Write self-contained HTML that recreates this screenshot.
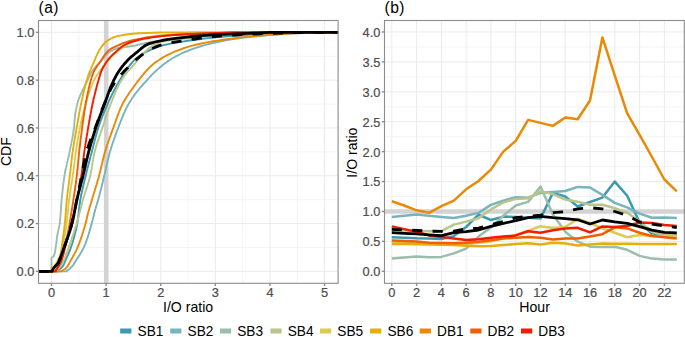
<!DOCTYPE html>
<html><head><meta charset="utf-8"><style>
html,body{margin:0;padding:0;background:#fff;width:685px;height:337px;overflow:hidden}
svg{display:block}
text{font-family:"Liberation Sans",sans-serif}
.tk text{stroke:#4D4D4D;stroke-width:0.22px}
.bt text{stroke:none}
</style></head><body>
<svg width="685" height="337" viewBox="0 0 685 337">
<rect width="685" height="337" fill="#fff"/>
<g><line x1="78.85" y1="20.5" x2="78.85" y2="283.3" stroke="#F1F1F1" stroke-width="0.8"/>
<line x1="133.45" y1="20.5" x2="133.45" y2="283.3" stroke="#F1F1F1" stroke-width="0.8"/>
<line x1="188.05" y1="20.5" x2="188.05" y2="283.3" stroke="#F1F1F1" stroke-width="0.8"/>
<line x1="242.65" y1="20.5" x2="242.65" y2="283.3" stroke="#F1F1F1" stroke-width="0.8"/>
<line x1="297.25" y1="20.5" x2="297.25" y2="283.3" stroke="#F1F1F1" stroke-width="0.8"/>
<line x1="38.5" y1="247.45" x2="338.1" y2="247.45" stroke="#F1F1F1" stroke-width="0.8"/>
<line x1="38.5" y1="199.65" x2="338.1" y2="199.65" stroke="#F1F1F1" stroke-width="0.8"/>
<line x1="38.5" y1="151.85" x2="338.1" y2="151.85" stroke="#F1F1F1" stroke-width="0.8"/>
<line x1="38.5" y1="104.05" x2="338.1" y2="104.05" stroke="#F1F1F1" stroke-width="0.8"/>
<line x1="38.5" y1="56.25" x2="338.1" y2="56.25" stroke="#F1F1F1" stroke-width="0.8"/>
<line x1="51.55" y1="20.5" x2="51.55" y2="283.3" stroke="#EBEBEB" stroke-width="1.0"/>
<line x1="106.15" y1="20.5" x2="106.15" y2="283.3" stroke="#EBEBEB" stroke-width="1.0"/>
<line x1="160.75" y1="20.5" x2="160.75" y2="283.3" stroke="#EBEBEB" stroke-width="1.0"/>
<line x1="215.35" y1="20.5" x2="215.35" y2="283.3" stroke="#EBEBEB" stroke-width="1.0"/>
<line x1="269.95" y1="20.5" x2="269.95" y2="283.3" stroke="#EBEBEB" stroke-width="1.0"/>
<line x1="324.55" y1="20.5" x2="324.55" y2="283.3" stroke="#EBEBEB" stroke-width="1.0"/>
<line x1="38.5" y1="271.35" x2="338.1" y2="271.35" stroke="#EBEBEB" stroke-width="1.0"/>
<line x1="38.5" y1="223.55" x2="338.1" y2="223.55" stroke="#EBEBEB" stroke-width="1.0"/>
<line x1="38.5" y1="175.75" x2="338.1" y2="175.75" stroke="#EBEBEB" stroke-width="1.0"/>
<line x1="38.5" y1="127.95" x2="338.1" y2="127.95" stroke="#EBEBEB" stroke-width="1.0"/>
<line x1="38.5" y1="80.15" x2="338.1" y2="80.15" stroke="#EBEBEB" stroke-width="1.0"/>
<line x1="38.5" y1="32.35" x2="338.1" y2="32.35" stroke="#EBEBEB" stroke-width="1.0"/>
<line x1="384.5" y1="256.34" x2="684.3" y2="256.34" stroke="#F1F1F1" stroke-width="0.8"/>
<line x1="384.5" y1="226.43" x2="684.3" y2="226.43" stroke="#F1F1F1" stroke-width="0.8"/>
<line x1="384.5" y1="196.51" x2="684.3" y2="196.51" stroke="#F1F1F1" stroke-width="0.8"/>
<line x1="384.5" y1="166.6" x2="684.3" y2="166.6" stroke="#F1F1F1" stroke-width="0.8"/>
<line x1="384.5" y1="136.68" x2="684.3" y2="136.68" stroke="#F1F1F1" stroke-width="0.8"/>
<line x1="384.5" y1="106.77" x2="684.3" y2="106.77" stroke="#F1F1F1" stroke-width="0.8"/>
<line x1="384.5" y1="76.85" x2="684.3" y2="76.85" stroke="#F1F1F1" stroke-width="0.8"/>
<line x1="384.5" y1="46.94" x2="684.3" y2="46.94" stroke="#F1F1F1" stroke-width="0.8"/>
<line x1="391.8" y1="20.5" x2="391.8" y2="283.3" stroke="#EBEBEB" stroke-width="1.0"/>
<line x1="416.58" y1="20.5" x2="416.58" y2="283.3" stroke="#EBEBEB" stroke-width="1.0"/>
<line x1="441.36" y1="20.5" x2="441.36" y2="283.3" stroke="#EBEBEB" stroke-width="1.0"/>
<line x1="466.14" y1="20.5" x2="466.14" y2="283.3" stroke="#EBEBEB" stroke-width="1.0"/>
<line x1="490.92" y1="20.5" x2="490.92" y2="283.3" stroke="#EBEBEB" stroke-width="1.0"/>
<line x1="515.7" y1="20.5" x2="515.7" y2="283.3" stroke="#EBEBEB" stroke-width="1.0"/>
<line x1="540.48" y1="20.5" x2="540.48" y2="283.3" stroke="#EBEBEB" stroke-width="1.0"/>
<line x1="565.26" y1="20.5" x2="565.26" y2="283.3" stroke="#EBEBEB" stroke-width="1.0"/>
<line x1="590.04" y1="20.5" x2="590.04" y2="283.3" stroke="#EBEBEB" stroke-width="1.0"/>
<line x1="614.82" y1="20.5" x2="614.82" y2="283.3" stroke="#EBEBEB" stroke-width="1.0"/>
<line x1="639.6" y1="20.5" x2="639.6" y2="283.3" stroke="#EBEBEB" stroke-width="1.0"/>
<line x1="664.38" y1="20.5" x2="664.38" y2="283.3" stroke="#EBEBEB" stroke-width="1.0"/>
<line x1="384.5" y1="271.3" x2="684.3" y2="271.3" stroke="#EBEBEB" stroke-width="1.0"/>
<line x1="384.5" y1="241.39" x2="684.3" y2="241.39" stroke="#EBEBEB" stroke-width="1.0"/>
<line x1="384.5" y1="211.47" x2="684.3" y2="211.47" stroke="#EBEBEB" stroke-width="1.0"/>
<line x1="384.5" y1="181.56" x2="684.3" y2="181.56" stroke="#EBEBEB" stroke-width="1.0"/>
<line x1="384.5" y1="151.64" x2="684.3" y2="151.64" stroke="#EBEBEB" stroke-width="1.0"/>
<line x1="384.5" y1="121.73" x2="684.3" y2="121.73" stroke="#EBEBEB" stroke-width="1.0"/>
<line x1="384.5" y1="91.81" x2="684.3" y2="91.81" stroke="#EBEBEB" stroke-width="1.0"/>
<line x1="384.5" y1="61.9" x2="684.3" y2="61.9" stroke="#EBEBEB" stroke-width="1.0"/>
<line x1="384.5" y1="31.98" x2="684.3" y2="31.98" stroke="#EBEBEB" stroke-width="1.0"/></g>
<g><line x1="106.2" y1="20.5" x2="106.2" y2="283.3" stroke="#D3D3D3" stroke-width="4.6"/>
<line x1="384.5" y1="211.5" x2="684.3" y2="211.5" stroke="#D3D3D3" stroke-width="4.6"/>
<g fill="none" stroke-width="1.9" stroke-linejoin="round">
<polyline points="38.5,271.4 58.1,271.4 58.1,270.2 58.1,270.2 59.3,269.4 60.4,268.6 61.3,267.8 62.1,267.0 62.7,266.2 63.2,265.4 63.7,264.6 64.1,263.8 64.4,263.0 64.8,262.2 65.1,261.4 65.4,260.6 65.7,259.8 66.1,259.0 66.4,258.2 66.8,257.5 67.2,256.7 67.5,255.9 67.9,255.1 68.2,254.3 68.6,253.5 68.9,252.7 69.2,251.9 69.6,251.1 69.9,250.3 70.2,249.5 70.5,248.7 70.8,247.9 71.0,247.1 71.3,246.3 71.6,245.5 71.8,244.8 72.1,244.0 72.3,243.2 72.6,242.4 72.8,241.6 73.0,240.8 73.3,240.0 73.5,239.2 73.7,238.4 74.0,237.6 74.2,236.8 74.4,236.0 74.6,235.2 74.8,234.4 75.0,233.6 75.2,232.8 75.4,232.1 75.6,231.3 75.8,230.5 76.0,229.7 76.2,228.9 76.3,228.1 76.5,227.3 76.7,226.5 76.8,225.7 77.0,224.9 77.1,224.1 77.3,223.3 77.4,222.5 77.5,221.7 77.6,220.9 77.8,220.1 77.9,219.4 78.0,218.6 78.1,217.8 78.2,217.0 78.3,216.2 78.4,215.4 78.5,214.6 78.6,213.8 78.7,213.0 78.8,212.2 78.8,211.4 78.9,210.6 79.0,209.8 79.1,209.0 79.2,208.2 79.3,207.4 79.4,206.7 79.5,205.9 79.6,205.1 79.7,204.3 79.8,203.5 79.9,202.7 80.0,201.9 80.1,201.1 80.3,200.3 80.4,199.5 80.5,198.7 80.7,197.9 80.8,197.1 81.0,196.3 81.1,195.5 81.3,194.8 81.4,194.0 81.6,193.2 81.8,192.4 81.9,191.6 82.1,190.8 82.3,190.0 82.5,189.2 82.7,188.4 82.8,187.6 83.0,186.8 83.2,186.0 83.4,185.2 83.6,184.4 83.8,183.6 84.0,182.8 84.2,182.1 84.3,181.3 84.5,180.5 84.7,179.7 84.9,178.9 85.1,178.1 85.3,177.3 85.5,176.5 85.7,175.7 85.9,174.9 86.1,174.1 86.3,173.3 86.5,172.5 86.6,171.7 86.8,170.9 87.0,170.1 87.2,169.4 87.4,168.6 87.6,167.8 87.8,167.0 88.0,166.2 88.2,165.4 88.5,164.6 88.7,163.8 88.9,163.0 89.1,162.2 89.3,161.4 89.5,160.6 89.7,159.8 89.9,159.0 90.1,158.2 90.3,157.4 90.5,156.7 90.7,155.9 90.9,155.1 91.2,154.3 91.4,153.5 91.6,152.7 91.8,151.9 92.0,151.1 92.2,150.3 92.4,149.5 92.6,148.7 92.8,147.9 93.0,147.1 93.2,146.3 93.4,145.5 93.6,144.7 93.8,144.0 94.0,143.2 94.2,142.4 94.4,141.6 94.6,140.8 94.8,140.0 95.0,139.2 95.2,138.4 95.4,137.6 95.7,136.8 95.9,136.0 96.1,135.2 96.3,134.4 96.5,133.6 96.8,132.8 97.0,132.0 97.2,131.3 97.5,130.5 97.7,129.7 97.9,128.9 98.2,128.1 98.4,127.3 98.7,126.5 99.0,125.7 99.2,124.9 99.5,124.1 99.8,123.3 100.1,122.5 100.4,121.7 100.7,120.9 101.0,120.1 101.3,119.3 101.6,118.6 101.9,117.8 102.2,117.0 102.5,116.2 102.8,115.4 103.1,114.6 103.5,113.8 103.8,113.0 104.1,112.2 104.4,111.4 104.8,110.6 105.1,109.8 105.5,109.0 105.8,108.2 106.1,107.4 106.5,106.6 106.8,105.9 107.2,105.1 107.5,104.3 107.9,103.5 108.2,102.7 108.6,101.9 109.0,101.1 109.3,100.3 109.7,99.5 110.1,98.7 110.4,97.9 110.8,97.1 111.2,96.3 111.6,95.5 111.9,94.7 112.3,93.9 112.7,93.2 113.1,92.4 113.5,91.6 113.9,90.8 114.3,90.0 114.7,89.2 115.2,88.4 115.6,87.6 116.0,86.8 116.4,86.0 116.9,85.2 117.3,84.4 117.8,83.6 118.2,82.8 118.7,82.0 119.1,81.2 119.6,80.5 120.1,79.7 120.6,78.9 121.1,78.1 121.5,77.3 122.0,76.5 122.5,75.7 123.0,74.9 123.5,74.1 124.0,73.3 124.6,72.5 125.1,71.7 125.6,70.9 126.2,70.1 126.7,69.3 127.3,68.5 127.9,67.8 128.5,67.0 129.1,66.2 129.7,65.4 130.4,64.6 131.0,63.8 131.7,63.0 132.4,62.2 133.1,61.4 133.8,60.6 134.6,59.8 135.5,59.0 136.3,58.2 137.3,57.4 138.4,56.6 139.5,55.8 140.7,55.1 141.9,54.3 143.2,53.5 144.6,52.7 146.1,51.9 147.7,51.1 149.3,50.3 151.1,49.5 153.1,48.7 155.1,47.9 157.3,47.1 159.7,46.3 162.3,45.5 165.4,44.7 169.1,43.9 173.3,43.1 177.9,42.4 182.7,41.6 187.7,40.8 193.1,40.0 199.1,39.2 205.8,38.4 213.2,37.6 221.1,36.8 230.0,36.0 240.6,35.2 254.3,34.4 273.7,33.6 297.2,32.8 309.5,32.4 338.1,32.4" stroke="#3A9AB2"/>
<polyline points="38.5,271.4 66.8,271.4 66.8,270.6 66.8,270.6 68.3,269.8 69.5,269.0 70.3,268.2 71.1,267.4 71.8,266.7 72.5,265.9 73.1,265.1 73.6,264.3 74.1,263.5 74.6,262.7 75.1,261.9 75.6,261.1 76.1,260.3 76.6,259.5 77.1,258.7 77.7,257.9 78.2,257.1 78.7,256.3 79.2,255.5 79.7,254.7 80.2,253.9 80.7,253.1 81.2,252.3 81.7,251.5 82.1,250.7 82.6,249.9 83.0,249.1 83.4,248.3 83.7,247.5 84.1,246.7 84.4,245.9 84.7,245.1 85.1,244.3 85.4,243.6 85.7,242.8 86.0,242.0 86.3,241.2 86.6,240.4 86.9,239.6 87.1,238.8 87.4,238.0 87.7,237.2 87.9,236.4 88.2,235.6 88.5,234.8 88.7,234.0 89.0,233.2 89.2,232.4 89.4,231.6 89.7,230.8 89.9,230.0 90.1,229.2 90.4,228.4 90.6,227.6 90.8,226.8 91.0,226.0 91.3,225.2 91.5,224.4 91.7,223.6 91.9,222.8 92.1,222.0 92.3,221.2 92.5,220.5 92.7,219.7 92.9,218.9 93.1,218.1 93.3,217.3 93.5,216.5 93.7,215.7 93.9,214.9 94.0,214.1 94.2,213.3 94.5,212.5 94.7,211.7 94.9,210.9 95.1,210.1 95.3,209.3 95.6,208.5 95.8,207.7 96.1,206.9 96.3,206.1 96.5,205.3 96.8,204.5 97.0,203.7 97.3,202.9 97.5,202.1 97.8,201.3 98.0,200.5 98.2,199.7 98.4,198.9 98.6,198.1 98.9,197.4 99.1,196.6 99.3,195.8 99.5,195.0 99.7,194.2 99.9,193.4 100.1,192.6 100.3,191.8 100.5,191.0 100.7,190.2 100.9,189.4 101.1,188.6 101.3,187.8 101.5,187.0 101.7,186.2 101.9,185.4 102.1,184.6 102.3,183.8 102.5,183.0 102.7,182.2 102.9,181.4 103.1,180.6 103.2,179.8 103.4,179.0 103.6,178.2 103.8,177.4 104.0,176.6 104.2,175.8 104.4,175.0 104.6,174.3 104.8,173.5 105.0,172.7 105.2,171.9 105.3,171.1 105.5,170.3 105.7,169.5 105.9,168.7 106.1,167.9 106.3,167.1 106.4,166.3 106.6,165.5 106.8,164.7 107.0,163.9 107.2,163.1 107.3,162.3 107.5,161.5 107.7,160.7 107.9,159.9 108.1,159.1 108.3,158.3 108.5,157.5 108.7,156.7 108.9,155.9 109.1,155.1 109.3,154.3 109.5,153.5 109.7,152.7 109.9,151.9 110.2,151.2 110.4,150.4 110.6,149.6 110.9,148.8 111.1,148.0 111.4,147.2 111.6,146.4 111.9,145.6 112.1,144.8 112.4,144.0 112.6,143.2 112.9,142.4 113.2,141.6 113.5,140.8 113.7,140.0 114.0,139.2 114.3,138.4 114.6,137.6 114.9,136.8 115.1,136.0 115.4,135.2 115.7,134.4 116.0,133.6 116.3,132.8 116.6,132.0 116.9,131.2 117.2,130.4 117.5,129.6 117.8,128.9 118.1,128.1 118.4,127.3 118.7,126.5 119.0,125.7 119.3,124.9 119.6,124.1 119.9,123.3 120.3,122.5 120.6,121.7 120.9,120.9 121.2,120.1 121.5,119.3 121.8,118.5 122.1,117.7 122.5,116.9 122.8,116.1 123.1,115.3 123.5,114.5 123.8,113.7 124.2,112.9 124.5,112.1 124.9,111.3 125.3,110.5 125.6,109.7 126.0,108.9 126.4,108.1 126.8,107.3 127.2,106.5 127.6,105.8 128.0,105.0 128.5,104.2 128.9,103.4 129.4,102.6 129.9,101.8 130.3,101.0 130.9,100.2 131.4,99.4 131.9,98.6 132.4,97.8 133.0,97.0 133.6,96.2 134.1,95.4 134.7,94.6 135.3,93.8 135.9,93.0 136.6,92.2 137.2,91.4 137.8,90.6 138.5,89.8 139.1,89.0 139.8,88.2 140.5,87.4 141.2,86.6 141.9,85.8 142.6,85.0 143.3,84.2 144.0,83.4 144.7,82.7 145.4,81.9 146.1,81.1 146.8,80.3 147.5,79.5 148.2,78.7 149.0,77.9 149.7,77.1 150.5,76.3 151.2,75.5 152.0,74.7 152.8,73.9 153.6,73.1 154.4,72.3 155.3,71.5 156.1,70.7 157.0,69.9 157.9,69.1 158.8,68.3 159.7,67.5 160.7,66.7 161.7,65.9 162.7,65.1 163.7,64.3 164.7,63.5 165.8,62.7 166.9,61.9 168.1,61.1 169.3,60.3 170.5,59.6 171.7,58.8 173.0,58.0 174.4,57.2 175.8,56.4 177.3,55.6 178.8,54.8 180.5,54.0 182.2,53.2 184.0,52.4 185.9,51.6 187.9,50.8 189.9,50.0 192.1,49.2 194.3,48.4 196.7,47.6 199.1,46.8 201.7,46.0 204.4,45.2 207.4,44.4 210.5,43.6 213.9,42.8 217.5,42.0 221.5,41.2 225.7,40.4 230.3,39.6 235.3,38.8 240.7,38.0 246.6,37.2 253.5,36.5 261.6,35.7 271.3,34.9 282.8,34.1 296.4,33.3 319.1,32.5 322.4,32.4 338.1,32.4" stroke="#78B4BE"/>
<polyline points="38.5,271.4 51.5,271.4 51.5,257.7 51.5,257.7 52.7,257.0 53.6,256.2 54.0,255.5 54.3,254.7 54.5,254.0 54.7,253.2 54.9,252.5 55.0,251.7 55.1,251.0 55.3,250.2 55.4,249.5 55.5,248.7 55.6,248.0 55.7,247.2 55.8,246.5 55.9,245.7 56.0,245.0 56.2,244.2 56.3,243.5 56.4,242.7 56.5,242.0 56.6,241.2 56.6,240.5 56.7,239.8 56.8,239.0 56.9,238.3 57.0,237.5 57.1,236.8 57.2,236.0 57.3,235.3 57.4,234.5 57.6,233.8 57.7,233.0 57.9,232.3 58.0,231.5 58.2,230.8 58.4,230.0 58.6,229.3 58.7,228.5 58.9,227.8 59.1,227.0 59.3,226.3 59.4,225.5 59.6,224.8 59.7,224.0 59.8,223.3 59.9,222.5 59.9,221.8 60.0,221.0 60.1,220.3 60.2,219.5 60.2,218.8 60.3,218.0 60.4,217.3 60.4,216.5 60.5,215.8 60.5,215.0 60.6,214.3 60.7,213.5 60.7,212.8 60.8,212.0 60.8,211.3 60.8,210.5 60.9,209.8 60.9,209.0 61.0,208.3 61.0,207.5 61.1,206.8 61.1,206.0 61.2,205.3 61.2,204.5 61.3,203.8 61.4,203.1 61.4,202.3 61.5,201.6 61.5,200.8 61.6,200.1 61.7,199.3 61.8,198.6 61.8,197.8 61.9,197.1 62.0,196.3 62.1,195.6 62.1,194.8 62.2,194.1 62.3,193.3 62.4,192.6 62.4,191.8 62.5,191.1 62.6,190.3 62.7,189.6 62.8,188.8 62.9,188.1 62.9,187.3 63.0,186.6 63.1,185.8 63.2,185.1 63.3,184.3 63.4,183.6 63.5,182.8 63.6,182.1 63.7,181.3 63.8,180.6 63.9,179.8 64.0,179.1 64.1,178.3 64.2,177.6 64.3,176.8 64.4,176.1 64.6,175.3 64.7,174.6 64.8,173.8 64.9,173.1 65.1,172.3 65.2,171.6 65.4,170.8 65.5,170.1 65.7,169.3 65.8,168.6 66.0,167.9 66.1,167.1 66.3,166.4 66.5,165.6 66.7,164.9 66.8,164.1 67.0,163.4 67.2,162.6 67.3,161.9 67.5,161.1 67.7,160.4 67.9,159.6 68.0,158.9 68.2,158.1 68.4,157.4 68.6,156.6 68.7,155.9 68.9,155.1 69.1,154.4 69.2,153.6 69.4,152.9 69.5,152.1 69.7,151.4 69.8,150.6 70.0,149.9 70.1,149.1 70.3,148.4 70.4,147.6 70.6,146.9 70.7,146.1 70.9,145.4 71.0,144.6 71.2,143.9 71.3,143.1 71.5,142.4 71.6,141.6 71.8,140.9 71.9,140.1 72.1,139.4 72.2,138.6 72.4,137.9 72.5,137.1 72.6,136.4 72.8,135.6 72.9,134.9 73.0,134.1 73.2,133.4 73.3,132.6 73.4,131.9 73.5,131.2 73.6,130.4 73.7,129.7 73.8,128.9 73.9,128.2 74.0,127.4 74.1,126.7 74.2,125.9 74.2,125.2 74.3,124.4 74.3,123.7 74.4,122.9 74.5,122.2 74.5,121.4 74.6,120.7 74.6,119.9 74.7,119.2 74.8,118.4 74.8,117.7 74.9,116.9 75.0,116.2 75.1,115.4 75.2,114.7 75.3,113.9 75.4,113.2 75.5,112.4 75.6,111.7 75.8,110.9 75.9,110.2 76.0,109.4 76.2,108.7 76.3,107.9 76.5,107.2 76.7,106.4 76.8,105.7 77.0,104.9 77.2,104.2 77.4,103.4 77.6,102.7 77.8,101.9 78.0,101.2 78.3,100.4 78.5,99.7 78.8,98.9 79.1,98.2 79.4,97.4 79.7,96.7 80.0,95.9 80.3,95.2 80.6,94.5 81.0,93.7 81.3,93.0 81.7,92.2 82.0,91.5 82.4,90.7 82.7,90.0 83.1,89.2 83.5,88.5 83.9,87.7 84.2,87.0 84.6,86.2 85.0,85.5 85.4,84.7 85.7,84.0 86.1,83.2 86.5,82.5 86.8,81.7 87.2,81.0 87.6,80.2 87.9,79.5 88.3,78.7 88.6,78.0 88.9,77.2 89.3,76.5 89.7,75.7 90.0,75.0 90.4,74.2 90.8,73.5 91.2,72.7 91.7,72.0 92.2,71.2 92.7,70.5 93.2,69.7 93.8,69.0 94.4,68.2 95.0,67.5 95.7,66.7 96.4,66.0 97.1,65.2 97.8,64.5 98.5,63.7 99.2,63.0 99.9,62.2 100.6,61.5 101.3,60.7 102.0,60.0 102.6,59.2 103.2,58.5 103.8,57.8 104.5,57.0 105.1,56.3 105.7,55.5 106.5,54.8 107.2,54.0 108.1,53.3 109.0,52.5 110.0,51.8 111.2,51.0 112.5,50.3 113.9,49.5 115.8,48.8 118.3,48.0 121.7,47.3 129.0,46.5 133.9,45.8 137.0,45.0 140.1,44.3 143.9,43.5 147.8,42.8 152.0,42.0 156.8,41.3 162.3,40.5 169.3,39.8 177.5,39.0 185.9,38.3 194.0,37.5 202.1,36.8 210.9,36.0 221.4,35.3 234.0,34.5 248.1,33.8 272.7,32.4 338.1,32.4" stroke="#9BBEAC"/>
<polyline points="38.5,271.4 57.0,271.4 57.0,270.2 57.0,270.2 57.7,269.4 58.4,268.6 59.1,267.8 59.7,267.0 60.3,266.2 60.8,265.4 61.3,264.6 61.8,263.8 62.3,263.0 62.7,262.2 63.1,261.5 63.5,260.7 63.9,259.9 64.3,259.1 64.6,258.3 64.9,257.5 65.3,256.7 65.6,255.9 65.9,255.1 66.2,254.3 66.5,253.5 66.8,252.7 67.1,252.0 67.3,251.2 67.6,250.4 67.9,249.6 68.2,248.8 68.4,248.0 68.7,247.2 69.0,246.4 69.3,245.6 69.6,244.8 69.9,244.0 70.1,243.2 70.4,242.5 70.7,241.7 71.0,240.9 71.3,240.1 71.5,239.3 71.8,238.5 72.1,237.7 72.4,236.9 72.6,236.1 72.9,235.3 73.2,234.5 73.4,233.8 73.7,233.0 74.0,232.2 74.2,231.4 74.5,230.6 74.7,229.8 75.0,229.0 75.2,228.2 75.5,227.4 75.7,226.6 76.0,225.8 76.2,225.0 76.5,224.3 76.7,223.5 76.9,222.7 77.2,221.9 77.4,221.1 77.6,220.3 77.8,219.5 78.0,218.7 78.2,217.9 78.5,217.1 78.7,216.3 78.9,215.6 79.1,214.8 79.3,214.0 79.5,213.2 79.7,212.4 79.9,211.6 80.1,210.8 80.3,210.0 80.5,209.2 80.7,208.4 80.9,207.6 81.1,206.8 81.3,206.1 81.5,205.3 81.7,204.5 81.9,203.7 82.1,202.9 82.3,202.1 82.5,201.3 82.8,200.5 83.0,199.7 83.2,198.9 83.4,198.1 83.7,197.4 83.9,196.6 84.2,195.8 84.4,195.0 84.7,194.2 84.9,193.4 85.2,192.6 85.4,191.8 85.7,191.0 85.9,190.2 86.2,189.4 86.4,188.6 86.7,187.9 87.0,187.1 87.2,186.3 87.5,185.5 87.7,184.7 88.0,183.9 88.2,183.1 88.4,182.3 88.7,181.5 88.9,180.7 89.1,179.9 89.3,179.2 89.6,178.4 89.8,177.6 90.0,176.8 90.2,176.0 90.3,175.2 90.5,174.4 90.7,173.6 90.8,172.8 91.0,172.0 91.1,171.2 91.3,170.4 91.4,169.7 91.6,168.9 91.7,168.1 91.9,167.3 92.0,166.5 92.1,165.7 92.2,164.9 92.4,164.1 92.5,163.3 92.6,162.5 92.8,161.7 92.9,161.0 93.0,160.2 93.2,159.4 93.3,158.6 93.5,157.8 93.6,157.0 93.8,156.2 93.9,155.4 94.1,154.6 94.2,153.8 94.4,153.0 94.6,152.2 94.8,151.5 95.0,150.7 95.2,149.9 95.4,149.1 95.6,148.3 95.8,147.5 96.1,146.7 96.3,145.9 96.5,145.1 96.8,144.3 97.0,143.5 97.3,142.7 97.5,142.0 97.8,141.2 98.1,140.4 98.3,139.6 98.6,138.8 98.9,138.0 99.1,137.2 99.4,136.4 99.7,135.6 100.0,134.8 100.2,134.0 100.5,133.3 100.8,132.5 101.1,131.7 101.3,130.9 101.6,130.1 101.9,129.3 102.1,128.5 102.4,127.7 102.7,126.9 102.9,126.1 103.2,125.3 103.5,124.5 103.7,123.8 104.0,123.0 104.2,122.2 104.5,121.4 104.8,120.6 105.0,119.8 105.3,119.0 105.6,118.2 105.8,117.4 106.1,116.6 106.4,115.8 106.7,115.1 106.9,114.3 107.2,113.5 107.5,112.7 107.8,111.9 108.0,111.1 108.3,110.3 108.6,109.5 108.9,108.7 109.2,107.9 109.5,107.1 109.8,106.3 110.1,105.6 110.4,104.8 110.7,104.0 111.0,103.2 111.3,102.4 111.6,101.6 112.0,100.8 112.3,100.0 112.6,99.2 112.9,98.4 113.2,97.6 113.5,96.9 113.8,96.1 114.2,95.3 114.5,94.5 114.8,93.7 115.1,92.9 115.5,92.1 115.8,91.3 116.2,90.5 116.5,89.7 116.9,88.9 117.3,88.1 117.6,87.4 118.0,86.6 118.4,85.8 118.8,85.0 119.2,84.2 119.6,83.4 120.0,82.6 120.5,81.8 120.9,81.0 121.4,80.2 121.9,79.4 122.4,78.7 122.9,77.9 123.5,77.1 124.0,76.3 124.6,75.5 125.2,74.7 125.9,73.9 126.5,73.1 127.2,72.3 127.8,71.5 128.5,70.7 129.2,69.9 129.9,69.2 130.6,68.4 131.3,67.6 132.0,66.8 132.7,66.0 133.4,65.2 134.1,64.4 134.8,63.6 135.5,62.8 136.1,62.0 136.8,61.2 137.4,60.5 138.0,59.7 138.7,58.9 139.3,58.1 139.9,57.3 140.5,56.5 141.2,55.7 141.9,54.9 142.6,54.1 143.4,53.3 144.2,52.5 145.1,51.7 145.9,51.0 146.8,50.2 147.6,49.4 148.5,48.6 149.5,47.8 150.5,47.0 151.7,46.2 152.9,45.4 154.4,44.6 156.0,43.8 157.8,43.0 159.8,42.2 162.4,41.5 166.9,40.7 172.8,39.9 179.5,39.1 186.3,38.3 192.8,37.5 199.4,36.7 207.0,35.9 216.6,35.1 230.5,34.3 248.1,33.5 271.5,32.4 338.1,32.4" stroke="#B7C68A"/>
<polyline points="38.5,271.4 51.5,271.4 51.5,269.0 51.5,269.0 52.2,268.2 52.9,267.4 53.6,266.6 54.3,265.8 54.9,265.0 55.5,264.2 56.0,263.4 56.5,262.7 57.0,261.9 57.4,261.1 57.8,260.3 58.2,259.5 58.5,258.7 58.9,257.9 59.2,257.1 59.6,256.3 59.9,255.6 60.2,254.8 60.5,254.0 60.8,253.2 61.0,252.4 61.3,251.6 61.5,250.8 61.8,250.0 62.0,249.3 62.2,248.5 62.4,247.7 62.6,246.9 62.8,246.1 63.0,245.3 63.1,244.5 63.3,243.7 63.5,243.0 63.6,242.2 63.8,241.4 64.0,240.6 64.1,239.8 64.2,239.0 64.4,238.2 64.5,237.4 64.7,236.6 64.8,235.9 64.9,235.1 65.0,234.3 65.2,233.5 65.3,232.7 65.4,231.9 65.5,231.1 65.6,230.3 65.8,229.6 65.9,228.8 66.0,228.0 66.1,227.2 66.2,226.4 66.3,225.6 66.4,224.8 66.5,224.0 66.6,223.2 66.7,222.5 66.8,221.7 66.9,220.9 67.0,220.1 67.1,219.3 67.2,218.5 67.3,217.7 67.3,216.9 67.4,216.2 67.5,215.4 67.6,214.6 67.7,213.8 67.7,213.0 67.8,212.2 67.9,211.4 68.0,210.6 68.0,209.8 68.1,209.1 68.2,208.3 68.3,207.5 68.3,206.7 68.4,205.9 68.5,205.1 68.6,204.3 68.7,203.5 68.8,202.8 68.9,202.0 68.9,201.2 69.0,200.4 69.1,199.6 69.2,198.8 69.3,198.0 69.5,197.2 69.6,196.5 69.7,195.7 69.8,194.9 69.9,194.1 70.0,193.3 70.1,192.5 70.3,191.7 70.4,190.9 70.5,190.1 70.6,189.4 70.8,188.6 70.9,187.8 71.0,187.0 71.2,186.2 71.3,185.4 71.4,184.6 71.5,183.8 71.7,183.1 71.8,182.3 71.9,181.5 72.1,180.7 72.2,179.9 72.3,179.1 72.4,178.3 72.5,177.5 72.6,176.7 72.8,176.0 72.9,175.2 73.0,174.4 73.1,173.6 73.2,172.8 73.3,172.0 73.4,171.2 73.5,170.4 73.6,169.7 73.7,168.9 73.8,168.1 73.9,167.3 74.0,166.5 74.1,165.7 74.2,164.9 74.3,164.1 74.4,163.3 74.5,162.6 74.6,161.8 74.7,161.0 74.8,160.2 74.9,159.4 75.0,158.6 75.1,157.8 75.2,157.0 75.3,156.3 75.4,155.5 75.5,154.7 75.6,153.9 75.7,153.1 75.8,152.3 75.9,151.5 76.1,150.7 76.2,150.0 76.3,149.2 76.4,148.4 76.5,147.6 76.7,146.8 76.8,146.0 76.9,145.2 77.0,144.4 77.2,143.6 77.3,142.9 77.4,142.1 77.5,141.3 77.7,140.5 77.8,139.7 77.9,138.9 78.1,138.1 78.2,137.3 78.3,136.6 78.5,135.8 78.6,135.0 78.8,134.2 78.9,133.4 79.0,132.6 79.2,131.8 79.3,131.0 79.5,130.2 79.6,129.5 79.8,128.7 80.0,127.9 80.1,127.1 80.3,126.3 80.4,125.5 80.6,124.7 80.8,123.9 80.9,123.2 81.1,122.4 81.3,121.6 81.4,120.8 81.6,120.0 81.8,119.2 82.0,118.4 82.2,117.6 82.3,116.8 82.5,116.1 82.7,115.3 82.9,114.5 83.1,113.7 83.3,112.9 83.5,112.1 83.7,111.3 83.9,110.5 84.1,109.8 84.3,109.0 84.5,108.2 84.7,107.4 85.0,106.6 85.2,105.8 85.4,105.0 85.6,104.2 85.8,103.5 86.1,102.7 86.3,101.9 86.5,101.1 86.8,100.3 87.0,99.5 87.2,98.7 87.5,97.9 87.7,97.1 87.9,96.4 88.2,95.6 88.4,94.8 88.7,94.0 89.0,93.2 89.2,92.4 89.5,91.6 89.8,90.8 90.0,90.1 90.3,89.3 90.6,88.5 90.9,87.7 91.2,86.9 91.5,86.1 91.9,85.3 92.2,84.5 92.5,83.7 92.9,83.0 93.2,82.2 93.6,81.4 93.9,80.6 94.3,79.8 94.7,79.0 95.1,78.2 95.6,77.4 96.0,76.7 96.5,75.9 97.0,75.1 97.5,74.3 98.1,73.5 98.6,72.7 99.2,71.9 99.7,71.1 100.3,70.3 100.9,69.6 101.5,68.8 102.1,68.0 102.8,67.2 103.4,66.4 104.0,65.6 104.7,64.8 105.3,64.0 105.9,63.3 106.6,62.5 107.2,61.7 107.9,60.9 108.6,60.1 109.3,59.3 110.0,58.5 110.7,57.7 111.4,57.0 112.2,56.2 113.0,55.4 113.8,54.6 114.6,53.8 115.5,53.0 116.4,52.2 117.4,51.4 118.3,50.6 119.4,49.9 120.4,49.1 121.5,48.3 122.6,47.5 123.8,46.7 125.0,45.9 126.3,45.1 127.8,44.3 129.3,43.6 130.9,42.8 132.6,42.0 134.5,41.2 136.5,40.4 138.9,39.6 141.5,38.8 144.6,38.0 148.2,37.2 152.2,36.5 157.1,35.7 164.0,34.9 172.8,34.1 182.6,33.3 192.5,32.4 338.1,32.4" stroke="#DCCB4E"/>
<polyline points="38.5,271.4 51.5,271.4 51.5,268.5 51.5,268.5 52.6,267.7 53.7,266.9 54.6,266.1 55.4,265.3 56.1,264.5 56.7,263.7 57.2,263.0 57.7,262.2 58.2,261.4 58.6,260.6 59.0,259.8 59.3,259.0 59.6,258.2 59.9,257.4 60.1,256.6 60.3,255.9 60.5,255.1 60.6,254.3 60.8,253.5 60.9,252.7 61.0,251.9 61.1,251.1 61.2,250.3 61.4,249.5 61.5,248.7 61.6,248.0 61.7,247.2 61.8,246.4 61.9,245.6 62.1,244.8 62.2,244.0 62.3,243.2 62.4,242.4 62.5,241.6 62.6,240.9 62.7,240.1 62.9,239.3 63.0,238.5 63.1,237.7 63.2,236.9 63.3,236.1 63.4,235.3 63.5,234.5 63.6,233.8 63.7,233.0 63.8,232.2 63.9,231.4 64.0,230.6 64.1,229.8 64.2,229.0 64.3,228.2 64.4,227.4 64.5,226.6 64.6,225.9 64.7,225.1 64.7,224.3 64.8,223.5 64.9,222.7 65.0,221.9 65.1,221.1 65.1,220.3 65.2,219.5 65.3,218.8 65.3,218.0 65.4,217.2 65.5,216.4 65.5,215.6 65.6,214.8 65.7,214.0 65.7,213.2 65.8,212.4 65.8,211.6 65.9,210.9 66.0,210.1 66.0,209.3 66.1,208.5 66.1,207.7 66.2,206.9 66.3,206.1 66.3,205.3 66.4,204.5 66.5,203.8 66.5,203.0 66.6,202.2 66.7,201.4 66.7,200.6 66.8,199.8 66.9,199.0 67.0,198.2 67.1,197.4 67.2,196.7 67.3,195.9 67.3,195.1 67.4,194.3 67.5,193.5 67.6,192.7 67.7,191.9 67.8,191.1 67.9,190.3 68.0,189.5 68.1,188.8 68.2,188.0 68.3,187.2 68.5,186.4 68.6,185.6 68.7,184.8 68.8,184.0 68.9,183.2 69.0,182.4 69.1,181.7 69.2,180.9 69.3,180.1 69.4,179.3 69.5,178.5 69.6,177.7 69.7,176.9 69.8,176.1 69.9,175.3 70.0,174.6 70.1,173.8 70.2,173.0 70.3,172.2 70.3,171.4 70.4,170.6 70.5,169.8 70.6,169.0 70.7,168.2 70.8,167.4 70.9,166.7 71.0,165.9 71.0,165.1 71.1,164.3 71.2,163.5 71.3,162.7 71.4,161.9 71.5,161.1 71.6,160.3 71.7,159.6 71.8,158.8 71.8,158.0 71.9,157.2 72.0,156.4 72.1,155.6 72.2,154.8 72.3,154.0 72.4,153.2 72.5,152.4 72.7,151.7 72.8,150.9 72.9,150.1 73.0,149.3 73.1,148.5 73.2,147.7 73.4,146.9 73.5,146.1 73.6,145.3 73.7,144.6 73.9,143.8 74.0,143.0 74.1,142.2 74.3,141.4 74.4,140.6 74.5,139.8 74.7,139.0 74.8,138.2 75.0,137.5 75.1,136.7 75.2,135.9 75.4,135.1 75.5,134.3 75.7,133.5 75.8,132.7 76.0,131.9 76.1,131.1 76.2,130.3 76.4,129.6 76.5,128.8 76.7,128.0 76.8,127.2 76.9,126.4 77.1,125.6 77.2,124.8 77.3,124.0 77.5,123.2 77.6,122.5 77.8,121.7 77.9,120.9 78.0,120.1 78.2,119.3 78.3,118.5 78.5,117.7 78.6,116.9 78.7,116.1 78.9,115.4 79.0,114.6 79.2,113.8 79.3,113.0 79.4,112.2 79.6,111.4 79.7,110.6 79.9,109.8 80.0,109.0 80.2,108.2 80.3,107.5 80.5,106.7 80.7,105.9 80.8,105.1 81.0,104.3 81.1,103.5 81.3,102.7 81.5,101.9 81.6,101.1 81.8,100.4 82.0,99.6 82.1,98.8 82.3,98.0 82.5,97.2 82.7,96.4 82.8,95.6 83.0,94.8 83.2,94.0 83.4,93.2 83.6,92.5 83.7,91.7 83.9,90.9 84.1,90.1 84.3,89.3 84.5,88.5 84.7,87.7 84.9,86.9 85.1,86.1 85.3,85.4 85.5,84.6 85.7,83.8 86.0,83.0 86.2,82.2 86.4,81.4 86.6,80.6 86.9,79.8 87.1,79.0 87.4,78.3 87.6,77.5 87.9,76.7 88.2,75.9 88.4,75.1 88.7,74.3 89.0,73.5 89.3,72.7 89.6,71.9 89.9,71.1 90.2,70.4 90.6,69.6 90.9,68.8 91.3,68.0 91.6,67.2 92.0,66.4 92.3,65.6 92.7,64.8 93.0,64.0 93.4,63.3 93.7,62.5 94.1,61.7 94.4,60.9 94.7,60.1 95.0,59.3 95.4,58.5 95.7,57.7 96.0,56.9 96.4,56.1 96.7,55.4 97.1,54.6 97.4,53.8 97.8,53.0 98.2,52.2 98.7,51.4 99.1,50.6 99.6,49.8 100.1,49.0 100.6,48.3 101.1,47.5 101.6,46.7 102.2,45.9 102.8,45.1 103.5,44.3 104.2,43.5 105.0,42.7 105.8,41.9 106.8,41.2 107.8,40.4 109.0,39.6 110.5,38.8 112.2,38.0 114.1,37.2 116.7,36.4 120.2,35.6 124.6,34.8 130.1,34.0 138.7,33.3 160.8,32.5 164.6,32.4 338.1,32.4" stroke="#E4AF0D"/>
<polyline points="38.5,271.4 61.9,271.4 61.9,270.6 61.9,270.6 63.6,269.8 64.9,269.0 65.8,268.2 66.5,267.4 67.2,266.7 67.7,265.9 68.3,265.1 68.7,264.3 69.2,263.5 69.6,262.7 70.0,261.9 70.4,261.1 70.8,260.3 71.3,259.5 71.7,258.7 72.2,257.9 72.6,257.1 73.1,256.3 73.5,255.5 74.0,254.7 74.4,253.9 74.8,253.1 75.3,252.3 75.7,251.5 76.1,250.7 76.4,249.9 76.8,249.1 77.2,248.3 77.5,247.5 77.8,246.7 78.2,246.0 78.5,245.2 78.8,244.4 79.1,243.6 79.4,242.8 79.7,242.0 80.0,241.2 80.3,240.4 80.6,239.6 80.8,238.8 81.1,238.0 81.4,237.2 81.7,236.4 81.9,235.6 82.2,234.8 82.4,234.0 82.7,233.2 82.9,232.4 83.2,231.6 83.4,230.8 83.7,230.0 83.9,229.2 84.1,228.4 84.4,227.6 84.6,226.8 84.8,226.0 85.0,225.3 85.3,224.5 85.5,223.7 85.7,222.9 85.9,222.1 86.1,221.3 86.3,220.5 86.5,219.7 86.7,218.9 86.9,218.1 87.0,217.3 87.2,216.5 87.4,215.7 87.6,214.9 87.8,214.1 88.0,213.3 88.2,212.5 88.4,211.7 88.6,210.9 88.8,210.1 89.0,209.3 89.3,208.5 89.5,207.7 89.7,206.9 90.0,206.1 90.2,205.4 90.5,204.6 90.7,203.8 91.0,203.0 91.2,202.2 91.4,201.4 91.7,200.6 91.9,199.8 92.2,199.0 92.4,198.2 92.6,197.4 92.9,196.6 93.1,195.8 93.4,195.0 93.6,194.2 93.8,193.4 94.1,192.6 94.3,191.8 94.6,191.0 94.8,190.2 95.1,189.4 95.3,188.6 95.5,187.8 95.8,187.0 96.0,186.2 96.3,185.4 96.5,184.7 96.7,183.9 97.0,183.1 97.2,182.3 97.4,181.5 97.7,180.7 97.9,179.9 98.1,179.1 98.4,178.3 98.6,177.5 98.8,176.7 99.0,175.9 99.2,175.1 99.4,174.3 99.6,173.5 99.9,172.7 100.1,171.9 100.3,171.1 100.4,170.3 100.6,169.5 100.8,168.7 101.0,167.9 101.2,167.1 101.4,166.3 101.6,165.5 101.8,164.7 102.0,164.0 102.2,163.2 102.3,162.4 102.5,161.6 102.7,160.8 102.9,160.0 103.1,159.2 103.3,158.4 103.5,157.6 103.7,156.8 103.9,156.0 104.1,155.2 104.3,154.4 104.6,153.6 104.8,152.8 105.0,152.0 105.2,151.2 105.5,150.4 105.7,149.6 106.0,148.8 106.2,148.0 106.5,147.2 106.7,146.4 107.0,145.6 107.2,144.8 107.5,144.0 107.8,143.3 108.0,142.5 108.3,141.7 108.6,140.9 108.9,140.1 109.2,139.3 109.4,138.5 109.7,137.7 110.0,136.9 110.3,136.1 110.6,135.3 110.9,134.5 111.2,133.7 111.4,132.9 111.7,132.1 112.0,131.3 112.3,130.5 112.6,129.7 112.9,128.9 113.2,128.1 113.5,127.3 113.8,126.5 114.0,125.7 114.3,124.9 114.6,124.1 114.9,123.3 115.2,122.6 115.4,121.8 115.7,121.0 116.0,120.2 116.3,119.4 116.6,118.6 116.9,117.8 117.1,117.0 117.4,116.2 117.7,115.4 118.0,114.6 118.3,113.8 118.6,113.0 118.9,112.2 119.3,111.4 119.6,110.6 119.9,109.8 120.3,109.0 120.6,108.2 120.9,107.4 121.3,106.6 121.7,105.8 122.1,105.0 122.4,104.2 122.8,103.4 123.2,102.6 123.7,101.9 124.1,101.1 124.6,100.3 125.0,99.5 125.5,98.7 126.0,97.9 126.5,97.1 127.0,96.3 127.6,95.5 128.1,94.7 128.6,93.9 129.2,93.1 129.7,92.3 130.3,91.5 130.9,90.7 131.4,89.9 132.0,89.1 132.6,88.3 133.2,87.5 133.8,86.7 134.4,85.9 135.0,85.1 135.5,84.3 136.1,83.5 136.7,82.7 137.3,81.9 137.9,81.2 138.5,80.4 139.1,79.6 139.7,78.8 140.3,78.0 141.0,77.2 141.6,76.4 142.2,75.6 142.9,74.8 143.5,74.0 144.2,73.2 144.9,72.4 145.6,71.6 146.4,70.8 147.1,70.0 147.9,69.2 148.6,68.4 149.4,67.6 150.3,66.8 151.1,66.0 152.0,65.2 152.9,64.4 153.9,63.6 154.9,62.8 155.9,62.0 157.0,61.2 158.1,60.5 159.4,59.7 160.6,58.9 161.9,58.1 163.3,57.3 164.7,56.5 166.2,55.7 167.7,54.9 169.3,54.1 171.0,53.3 172.8,52.5 174.6,51.7 176.6,50.9 178.6,50.1 180.7,49.3 183.0,48.5 185.4,47.7 187.9,46.9 190.5,46.1 193.5,45.3 196.8,44.5 200.3,43.7 204.3,42.9 208.5,42.1 213.0,41.3 217.9,40.6 223.0,39.8 228.6,39.0 234.7,38.2 241.5,37.4 249.2,36.6 257.9,35.8 267.7,35.0 278.8,34.2 294.5,33.4 313.6,32.6 318.8,32.4 338.1,32.4" stroke="#E98905"/>
<polyline points="38.5,271.4 55.9,271.4 55.9,270.2 55.9,270.2 56.5,269.4 57.0,268.6 57.5,267.8 58.1,267.0 58.6,266.2 59.0,265.4 59.5,264.6 59.9,263.8 60.3,263.0 60.7,262.2 61.0,261.4 61.3,260.6 61.6,259.8 61.8,259.1 62.1,258.3 62.3,257.5 62.6,256.7 62.8,255.9 63.0,255.1 63.3,254.3 63.5,253.5 63.7,252.7 63.9,251.9 64.1,251.1 64.2,250.3 64.4,249.5 64.6,248.7 64.8,248.0 65.0,247.2 65.2,246.4 65.4,245.6 65.5,244.8 65.7,244.0 65.9,243.2 66.1,242.4 66.2,241.6 66.4,240.8 66.5,240.0 66.7,239.2 66.9,238.4 67.0,237.6 67.2,236.9 67.3,236.1 67.5,235.3 67.6,234.5 67.8,233.7 67.9,232.9 68.1,232.1 68.2,231.3 68.3,230.5 68.5,229.7 68.6,228.9 68.8,228.1 68.9,227.3 69.0,226.5 69.2,225.8 69.3,225.0 69.5,224.2 69.6,223.4 69.7,222.6 69.9,221.8 70.0,221.0 70.1,220.2 70.3,219.4 70.4,218.6 70.5,217.8 70.7,217.0 70.8,216.2 70.9,215.4 71.1,214.6 71.2,213.9 71.3,213.1 71.4,212.3 71.6,211.5 71.7,210.7 71.8,209.9 71.9,209.1 72.1,208.3 72.2,207.5 72.3,206.7 72.4,205.9 72.6,205.1 72.7,204.3 72.8,203.5 72.9,202.8 73.0,202.0 73.2,201.2 73.3,200.4 73.4,199.6 73.5,198.8 73.6,198.0 73.8,197.2 73.9,196.4 74.0,195.6 74.1,194.8 74.3,194.0 74.4,193.2 74.5,192.4 74.6,191.7 74.7,190.9 74.9,190.1 75.0,189.3 75.1,188.5 75.2,187.7 75.3,186.9 75.4,186.1 75.6,185.3 75.7,184.5 75.8,183.7 75.9,182.9 76.0,182.1 76.1,181.3 76.2,180.6 76.3,179.8 76.4,179.0 76.5,178.2 76.6,177.4 76.7,176.6 76.8,175.8 76.9,175.0 77.0,174.2 77.1,173.4 77.2,172.6 77.3,171.8 77.3,171.0 77.4,170.2 77.5,169.5 77.6,168.7 77.7,167.9 77.7,167.1 77.8,166.3 77.9,165.5 77.9,164.7 78.0,163.9 78.1,163.1 78.2,162.3 78.2,161.5 78.3,160.7 78.4,159.9 78.5,159.1 78.5,158.4 78.6,157.6 78.7,156.8 78.8,156.0 78.8,155.2 78.9,154.4 79.0,153.6 79.1,152.8 79.2,152.0 79.2,151.2 79.3,150.4 79.4,149.6 79.5,148.8 79.6,148.0 79.7,147.2 79.8,146.5 79.9,145.7 80.0,144.9 80.1,144.1 80.2,143.3 80.3,142.5 80.4,141.7 80.5,140.9 80.5,140.1 80.6,139.3 80.7,138.5 80.8,137.7 80.9,136.9 81.0,136.1 81.2,135.4 81.3,134.6 81.4,133.8 81.5,133.0 81.6,132.2 81.7,131.4 81.8,130.6 81.9,129.8 82.0,129.0 82.1,128.2 82.2,127.4 82.3,126.6 82.4,125.8 82.5,125.0 82.6,124.3 82.7,123.5 82.8,122.7 82.9,121.9 83.1,121.1 83.2,120.3 83.3,119.5 83.4,118.7 83.5,117.9 83.6,117.1 83.7,116.3 83.8,115.5 84.0,114.7 84.1,113.9 84.2,113.2 84.3,112.4 84.4,111.6 84.6,110.8 84.7,110.0 84.8,109.2 84.9,108.4 85.1,107.6 85.2,106.8 85.3,106.0 85.5,105.2 85.6,104.4 85.7,103.6 85.9,102.8 86.0,102.1 86.2,101.3 86.3,100.5 86.5,99.7 86.6,98.9 86.8,98.1 86.9,97.3 87.1,96.5 87.2,95.7 87.4,94.9 87.5,94.1 87.7,93.3 87.9,92.5 88.0,91.7 88.2,91.0 88.4,90.2 88.6,89.4 88.7,88.6 88.9,87.8 89.1,87.0 89.3,86.2 89.5,85.4 89.7,84.6 89.9,83.8 90.1,83.0 90.3,82.2 90.5,81.4 90.7,80.6 90.9,79.9 91.2,79.1 91.4,78.3 91.7,77.5 91.9,76.7 92.2,75.9 92.5,75.1 92.8,74.3 93.1,73.5 93.4,72.7 93.8,71.9 94.1,71.1 94.5,70.3 94.9,69.5 95.4,68.7 95.9,68.0 96.4,67.2 96.9,66.4 97.5,65.6 98.0,64.8 98.6,64.0 99.2,63.2 99.7,62.4 100.3,61.6 100.8,60.8 101.4,60.0 101.9,59.2 102.4,58.4 102.9,57.6 103.4,56.9 103.9,56.1 104.4,55.3 105.0,54.5 105.6,53.7 106.2,52.9 107.0,52.1 107.7,51.3 108.6,50.5 109.6,49.7 110.9,48.9 112.2,48.1 113.7,47.3 115.4,46.5 117.1,45.8 118.8,45.0 120.7,44.2 122.6,43.4 124.7,42.6 127.0,41.8 129.7,41.0 132.7,40.2 136.4,39.4 140.6,38.6 145.6,37.8 151.5,37.0 158.7,36.2 167.5,35.4 178.5,34.7 194.7,33.9 215.4,33.1 231.7,32.4 338.1,32.4" stroke="#EE6004"/>
<polyline points="38.5,271.4 55.9,271.4 55.9,270.2 55.9,270.2 56.5,269.4 57.0,268.6 57.5,267.8 58.1,267.0 58.6,266.2 59.0,265.4 59.5,264.6 59.9,263.8 60.3,263.0 60.7,262.2 61.0,261.4 61.3,260.6 61.6,259.8 61.8,259.0 62.1,258.2 62.4,257.4 62.6,256.6 62.8,255.9 63.0,255.1 63.3,254.3 63.5,253.5 63.7,252.7 63.9,251.9 64.1,251.1 64.3,250.3 64.5,249.5 64.7,248.7 64.9,247.9 65.1,247.1 65.4,246.3 65.6,245.5 65.8,244.7 66.0,243.9 66.2,243.1 66.4,242.3 66.7,241.6 66.9,240.8 67.1,240.0 67.3,239.2 67.5,238.4 67.7,237.6 67.9,236.8 68.1,236.0 68.4,235.2 68.6,234.4 68.8,233.6 69.0,232.8 69.2,232.0 69.4,231.2 69.6,230.4 69.8,229.6 70.0,228.8 70.2,228.0 70.4,227.3 70.6,226.5 70.8,225.7 71.0,224.9 71.2,224.1 71.4,223.3 71.6,222.5 71.8,221.7 72.0,220.9 72.2,220.1 72.4,219.3 72.5,218.5 72.7,217.7 72.9,216.9 73.1,216.1 73.3,215.3 73.5,214.5 73.7,213.7 73.9,212.9 74.1,212.2 74.2,211.4 74.4,210.6 74.6,209.8 74.8,209.0 75.0,208.2 75.2,207.4 75.3,206.6 75.5,205.8 75.7,205.0 75.9,204.2 76.0,203.4 76.2,202.6 76.4,201.8 76.5,201.0 76.7,200.2 76.9,199.4 77.0,198.6 77.2,197.9 77.4,197.1 77.5,196.3 77.7,195.5 77.9,194.7 78.0,193.9 78.2,193.1 78.3,192.3 78.5,191.5 78.7,190.7 78.8,189.9 79.0,189.1 79.1,188.3 79.3,187.5 79.4,186.7 79.6,185.9 79.7,185.1 79.9,184.3 80.0,183.6 80.2,182.8 80.3,182.0 80.4,181.2 80.6,180.4 80.7,179.6 80.8,178.8 81.0,178.0 81.1,177.2 81.2,176.4 81.3,175.6 81.4,174.8 81.6,174.0 81.7,173.2 81.8,172.4 81.9,171.6 82.0,170.8 82.1,170.0 82.2,169.2 82.3,168.5 82.4,167.7 82.5,166.9 82.6,166.1 82.7,165.3 82.8,164.5 82.9,163.7 82.9,162.9 83.0,162.1 83.1,161.3 83.2,160.5 83.3,159.7 83.4,158.9 83.5,158.1 83.6,157.3 83.7,156.5 83.8,155.7 83.9,154.9 84.0,154.2 84.1,153.4 84.2,152.6 84.3,151.8 84.4,151.0 84.5,150.2 84.7,149.4 84.8,148.6 84.9,147.8 85.0,147.0 85.1,146.2 85.3,145.4 85.4,144.6 85.5,143.8 85.6,143.0 85.8,142.2 85.9,141.4 86.0,140.6 86.1,139.9 86.3,139.1 86.4,138.3 86.5,137.5 86.7,136.7 86.8,135.9 86.9,135.1 87.1,134.3 87.2,133.5 87.3,132.7 87.5,131.9 87.6,131.1 87.7,130.3 87.9,129.5 88.0,128.7 88.1,127.9 88.3,127.1 88.4,126.3 88.5,125.5 88.7,124.8 88.8,124.0 88.9,123.2 89.1,122.4 89.2,121.6 89.4,120.8 89.5,120.0 89.6,119.2 89.8,118.4 89.9,117.6 90.0,116.8 90.2,116.0 90.3,115.2 90.5,114.4 90.6,113.6 90.8,112.8 90.9,112.0 91.1,111.2 91.2,110.5 91.4,109.7 91.5,108.9 91.7,108.1 91.8,107.3 92.0,106.5 92.2,105.7 92.3,104.9 92.5,104.1 92.7,103.3 92.8,102.5 93.0,101.7 93.2,100.9 93.4,100.1 93.5,99.3 93.7,98.5 93.9,97.7 94.1,96.9 94.3,96.2 94.5,95.4 94.7,94.6 94.9,93.8 95.1,93.0 95.3,92.2 95.5,91.4 95.7,90.6 95.9,89.8 96.1,89.0 96.3,88.2 96.5,87.4 96.7,86.6 96.9,85.8 97.1,85.0 97.4,84.2 97.6,83.4 97.8,82.6 98.0,81.9 98.2,81.1 98.5,80.3 98.7,79.5 98.9,78.7 99.2,77.9 99.4,77.1 99.6,76.3 99.9,75.5 100.1,74.7 100.4,73.9 100.6,73.1 100.9,72.3 101.2,71.5 101.6,70.7 101.9,69.9 102.3,69.1 102.7,68.3 103.1,67.5 103.5,66.8 104.0,66.0 104.4,65.2 104.9,64.4 105.4,63.6 105.9,62.8 106.4,62.0 107.0,61.2 107.6,60.4 108.1,59.6 108.8,58.8 109.5,58.0 110.2,57.2 110.9,56.4 111.7,55.6 112.5,54.8 113.4,54.0 114.3,53.2 115.1,52.5 116.0,51.7 116.9,50.9 117.8,50.1 118.7,49.3 119.6,48.5 120.6,47.7 121.6,46.9 122.7,46.1 123.9,45.3 125.3,44.5 127.0,43.7 128.9,42.9 131.2,42.1 133.7,41.3 136.6,40.5 139.7,39.7 143.2,38.9 147.3,38.2 152.2,37.4 158.1,36.6 165.1,35.8 174.3,35.0 186.4,34.2 202.6,33.4 226.3,32.6 232.8,32.4 338.1,32.4" stroke="#F11B00"/>
</g>
<polyline points="38.5,271.4 52.1,271.4 52.1,270.9 52.1,270.9 52.5,270.1 53.0,269.3 53.5,268.5 54.1,267.7 54.7,266.9 55.5,266.1 56.3,265.3 57.1,264.5 57.8,263.7 58.3,262.9 58.7,262.1 59.0,261.3 59.3,260.5 59.6,259.7 59.9,259.0 60.2,258.2 60.5,257.4 60.8,256.6 61.1,255.8 61.4,255.0 61.7,254.2 62.0,253.4 62.3,252.6 62.6,251.8 62.9,251.0 63.1,250.2 63.4,249.4 63.7,248.6 64.0,247.8 64.3,247.0 64.5,246.2 64.8,245.4 65.1,244.7 65.4,243.9 65.7,243.1 66.0,242.3 66.2,241.5 66.5,240.7 66.8,239.9 67.1,239.1 67.4,238.3 67.7,237.5 67.9,236.7 68.2,235.9 68.5,235.1 68.8,234.3 69.0,233.5 69.3,232.7 69.6,231.9 69.8,231.1 70.1,230.4 70.3,229.6 70.6,228.8 70.8,228.0 71.0,227.2 71.3,226.4 71.5,225.6 71.7,224.8 71.9,224.0 72.1,223.2 72.3,222.4 72.5,221.6 72.7,220.8 72.9,220.0 73.0,219.2 73.2,218.4 73.4,217.6 73.5,216.8 73.7,216.0 73.9,215.3 74.0,214.5 74.2,213.7 74.3,212.9 74.5,212.1 74.6,211.3 74.8,210.5 74.9,209.7 75.1,208.9 75.2,208.1 75.4,207.3 75.5,206.5 75.7,205.7 75.8,204.9 76.0,204.1 76.1,203.3 76.3,202.5 76.5,201.7 76.6,201.0 76.8,200.2 77.0,199.4 77.2,198.6 77.4,197.8 77.6,197.0 77.8,196.2 77.9,195.4 78.1,194.6 78.3,193.8 78.5,193.0 78.7,192.2 78.9,191.4 79.2,190.6 79.4,189.8 79.6,189.0 79.8,188.2 80.0,187.4 80.2,186.7 80.4,185.9 80.6,185.1 80.8,184.3 81.0,183.5 81.2,182.7 81.4,181.9 81.6,181.1 81.9,180.3 82.1,179.5 82.3,178.7 82.5,177.9 82.7,177.1 82.9,176.3 83.1,175.5 83.2,174.7 83.4,173.9 83.6,173.1 83.8,172.3 84.0,171.6 84.2,170.8 84.4,170.0 84.6,169.2 84.7,168.4 84.9,167.6 85.1,166.8 85.3,166.0 85.5,165.2 85.6,164.4 85.8,163.6 86.0,162.8 86.2,162.0 86.4,161.2 86.6,160.4 86.7,159.6 86.9,158.8 87.1,158.0 87.3,157.3 87.5,156.5 87.7,155.7 87.9,154.9 88.1,154.1 88.3,153.3 88.5,152.5 88.7,151.7 88.9,150.9 89.1,150.1 89.4,149.3 89.6,148.5 89.8,147.7 90.0,146.9 90.2,146.1 90.5,145.3 90.7,144.5 90.9,143.7 91.1,143.0 91.4,142.2 91.6,141.4 91.8,140.6 92.1,139.8 92.3,139.0 92.6,138.2 92.8,137.4 93.0,136.6 93.3,135.8 93.5,135.0 93.8,134.2 94.0,133.4 94.3,132.6 94.5,131.8 94.8,131.0 95.0,130.2 95.3,129.4 95.5,128.7 95.8,127.9 96.1,127.1 96.3,126.3 96.6,125.5 96.9,124.7 97.2,123.9 97.4,123.1 97.7,122.3 98.0,121.5 98.3,120.7 98.6,119.9 98.9,119.1 99.1,118.3 99.4,117.5 99.7,116.7 100.0,115.9 100.3,115.1 100.6,114.3 100.9,113.6 101.2,112.8 101.5,112.0 101.8,111.2 102.1,110.4 102.4,109.6 102.7,108.8 103.0,108.0 103.3,107.2 103.6,106.4 103.9,105.6 104.2,104.8 104.5,104.0 104.8,103.2 105.1,102.4 105.4,101.6 105.7,100.8 106.0,100.0 106.3,99.3 106.5,98.5 106.8,97.7 107.1,96.9 107.4,96.1 107.7,95.3 107.9,94.5 108.2,93.7 108.5,92.9 108.8,92.1 109.1,91.3 109.4,90.5 109.7,89.7 110.0,88.9 110.3,88.1 110.6,87.3 111.0,86.5 111.3,85.7 111.6,85.0 112.0,84.2 112.3,83.4 112.7,82.6 113.1,81.8 113.4,81.0 113.8,80.2 114.2,79.4 114.6,78.6 115.0,77.8 115.5,77.0 115.9,76.2 116.3,75.4 116.8,74.6 117.3,73.8 117.7,73.0 118.2,72.2 118.7,71.4 119.2,70.6 119.8,69.9 120.3,69.1 120.9,68.3 121.5,67.5 122.1,66.7 122.7,65.9 123.4,65.1 124.0,64.3 124.7,63.5 125.4,62.7 126.2,61.9 126.9,61.1 127.7,60.3 128.4,59.5 129.2,58.7 130.1,57.9 130.9,57.1 131.8,56.3 132.8,55.6 133.7,54.8 134.7,54.0 135.7,53.2 136.7,52.4 137.7,51.6 138.6,50.8 139.5,50.0 140.4,49.2 141.3,48.4 142.3,47.6 143.3,46.8 144.5,46.0 145.8,45.2 147.3,44.4 149.3,43.6 151.9,42.8 154.9,42.0 158.3,41.3 162.0,40.5 166.5,39.7 171.7,38.9 177.7,38.1 184.5,37.3 192.1,36.5 201.4,35.7 212.8,34.9 228.1,34.1 248.1,33.3 269.9,32.4 338.1,32.4" fill="none" stroke="#000" stroke-width="2.8" stroke-linejoin="round"/>
<polyline points="38.5,271.4 52.1,271.4 52.1,270.9 52.1,270.9 52.5,270.1 53.0,269.3 53.5,268.5 54.1,267.7 54.7,266.9 55.5,266.1 56.3,265.3 57.1,264.5 57.8,263.7 58.3,262.9 58.7,262.1 59.0,261.3 59.3,260.5 59.6,259.7 59.9,258.9 60.2,258.1 60.6,257.3 60.9,256.5 61.2,255.7 61.5,254.9 61.7,254.1 62.0,253.3 62.3,252.5 62.6,251.7 62.9,250.9 63.2,250.2 63.4,249.4 63.7,248.6 64.0,247.8 64.3,247.0 64.5,246.2 64.8,245.4 65.1,244.6 65.4,243.8 65.7,243.0 65.9,242.2 66.2,241.4 66.5,240.6 66.7,239.8 67.0,239.0 67.3,238.2 67.6,237.4 67.8,236.6 68.1,235.8 68.4,235.0 68.6,234.2 68.9,233.4 69.1,232.6 69.4,231.8 69.6,231.0 69.9,230.2 70.1,229.4 70.3,228.6 70.6,227.8 70.8,227.0 71.0,226.2 71.3,225.4 71.5,224.6 71.7,223.9 71.9,223.1 72.1,222.3 72.3,221.5 72.5,220.7 72.7,219.9 72.8,219.1 73.0,218.3 73.2,217.5 73.4,216.7 73.5,215.9 73.7,215.1 73.9,214.3 74.1,213.5 74.2,212.7 74.4,211.9 74.5,211.1 74.7,210.3 74.9,209.5 75.0,208.7 75.2,207.9 75.3,207.1 75.5,206.3 75.7,205.5 75.8,204.7 76.0,203.9 76.1,203.1 76.3,202.3 76.4,201.5 76.6,200.7 76.8,199.9 76.9,199.1 77.1,198.4 77.3,197.6 77.4,196.8 77.6,196.0 77.7,195.2 77.9,194.4 78.1,193.6 78.2,192.8 78.4,192.0 78.5,191.2 78.7,190.4 78.8,189.6 79.0,188.8 79.2,188.0 79.3,187.2 79.5,186.4 79.6,185.6 79.8,184.8 79.9,184.0 80.1,183.2 80.3,182.4 80.4,181.6 80.6,180.8 80.7,180.0 80.9,179.2 81.0,178.4 81.2,177.6 81.4,176.8 81.5,176.0 81.7,175.2 81.8,174.4 82.0,173.6 82.2,172.8 82.3,172.1 82.5,171.3 82.6,170.5 82.8,169.7 82.9,168.9 83.1,168.1 83.2,167.3 83.3,166.5 83.5,165.7 83.6,164.9 83.8,164.1 84.0,163.3 84.1,162.5 84.3,161.7 84.4,160.9 84.6,160.1 84.8,159.3 84.9,158.5 85.1,157.7 85.3,156.9 85.4,156.1 85.6,155.3 85.8,154.5 86.0,153.7 86.2,152.9 86.4,152.1 86.6,151.3 86.9,150.5 87.1,149.7 87.3,148.9 87.6,148.1 87.8,147.3 88.1,146.6 88.4,145.8 88.6,145.0 88.9,144.2 89.2,143.4 89.5,142.6 89.8,141.8 90.1,141.0 90.4,140.2 90.7,139.4 91.1,138.6 91.4,137.8 91.7,137.0 92.0,136.2 92.3,135.4 92.6,134.6 93.0,133.8 93.3,133.0 93.6,132.2 93.9,131.4 94.2,130.6 94.5,129.8 94.8,129.0 95.1,128.2 95.4,127.4 95.7,126.6 96.0,125.8 96.3,125.0 96.6,124.2 96.9,123.4 97.2,122.6 97.5,121.8 97.8,121.0 98.1,120.3 98.4,119.5 98.6,118.7 98.9,117.9 99.2,117.1 99.5,116.3 99.8,115.5 100.1,114.7 100.4,113.9 100.7,113.1 101.0,112.3 101.3,111.5 101.6,110.7 101.9,109.9 102.2,109.1 102.5,108.3 102.9,107.5 103.2,106.7 103.5,105.9 103.8,105.1 104.1,104.3 104.5,103.5 104.8,102.7 105.1,101.9 105.4,101.1 105.7,100.3 106.1,99.5 106.4,98.7 106.7,97.9 107.0,97.1 107.4,96.3 107.7,95.5 108.1,94.7 108.4,94.0 108.8,93.2 109.1,92.4 109.5,91.6 109.9,90.8 110.3,90.0 110.7,89.2 111.1,88.4 111.6,87.6 112.0,86.8 112.5,86.0 113.0,85.2 113.5,84.4 114.1,83.6 114.6,82.8 115.2,82.0 115.7,81.2 116.3,80.4 116.9,79.6 117.6,78.8 118.2,78.0 118.8,77.2 119.5,76.4 120.2,75.6 120.9,74.8 121.6,74.0 122.4,73.2 123.1,72.4 123.8,71.6 124.6,70.8 125.4,70.0 126.1,69.2 126.9,68.5 127.7,67.7 128.4,66.9 129.2,66.1 130.0,65.3 130.7,64.5 131.6,63.7 132.4,62.9 133.2,62.1 134.1,61.3 135.0,60.5 136.0,59.7 137.0,58.9 138.0,58.1 139.0,57.3 140.0,56.5 141.0,55.7 142.0,54.9 143.1,54.1 144.2,53.3 145.3,52.5 146.6,51.7 147.8,50.9 149.2,50.1 150.7,49.3 152.3,48.5 154.0,47.7 155.8,46.9 157.7,46.1 159.8,45.3 162.3,44.5 165.6,43.7 169.6,42.9 174.3,42.2 179.3,41.4 184.4,40.6 189.6,39.8 194.7,39.0 200.2,38.2 206.4,37.4 213.7,36.6 222.9,35.8 234.8,35.0 249.8,34.2 270.7,33.4 297.2,32.6 304.3,32.4 338.1,32.4" fill="none" stroke="#000" stroke-width="2.8" stroke-dasharray="10.2 10.2" stroke-linejoin="round"/>
<g fill="none" stroke-width="2.5" stroke-linejoin="round">
<polyline points="391.8,237.2 404.2,237.7 416.6,238.2 429.0,238.4 441.4,239.0 453.8,236.1 466.1,227.0 478.5,214.7 490.9,220.0 503.3,216.6 515.7,216.9 528.1,217.7 540.5,218.6 552.9,192.9 565.3,196.5 577.7,206.5 590.0,202.0 602.4,197.6 614.8,181.6 627.2,195.8 639.6,222.5 652.0,233.7 664.4,235.5 676.8,235.0" stroke="#3A9AB2"/>
<polyline points="391.8,216.9 404.2,215.7 416.6,214.5 429.0,215.8 441.4,217.0 453.8,218.1 466.1,215.7 478.5,212.9 490.9,204.9 503.3,200.7 515.7,197.3 528.1,197.7 540.5,192.9 552.9,191.9 565.3,191.0 577.7,186.9 590.0,187.5 602.4,194.9 614.8,202.9 627.2,207.4 639.6,213.6 652.0,217.7 664.4,217.5 676.8,218.1" stroke="#78B4BE"/>
<polyline points="391.8,258.6 404.2,257.5 416.6,256.4 429.0,257.2 441.4,256.9 453.8,253.4 466.1,248.6 478.5,236.6 490.9,227.6 503.3,215.7 515.7,205.5 528.1,201.9 540.5,186.6 552.9,214.5 565.3,231.8 577.7,241.7 590.0,246.7 602.4,247.0 614.8,246.7 627.2,249.8 639.6,255.9 652.0,258.6 664.4,259.5 676.8,259.5" stroke="#9BBEAC"/>
<polyline points="391.8,230.0 404.2,230.6 416.6,231.2 429.0,231.0 441.4,231.2 453.8,224.6 466.1,221.6 478.5,218.3 490.9,209.4 503.3,202.5 515.7,198.9 528.1,198.3 540.5,191.4 552.9,194.1 565.3,199.5 577.7,201.7 590.0,204.7 602.4,204.7 614.8,208.3 627.2,212.7 639.6,221.6 652.0,231.8 664.4,234.8 676.8,235.4" stroke="#B7C68A"/>
<polyline points="391.8,242.6 404.2,242.9 416.6,243.2 429.0,243.5 441.4,243.8 453.8,244.1 466.1,244.0 478.5,242.8 490.9,241.4 503.3,238.4 515.7,235.1 528.1,230.6 540.5,226.2 552.9,228.0 565.3,227.0 577.7,218.9 590.0,223.0 602.4,228.4 614.8,232.8 627.2,237.3 639.6,234.9 652.0,236.0 664.4,236.0 676.8,236.4" stroke="#DCCB4E"/>
<polyline points="391.8,244.0 404.2,244.1 416.6,244.3 429.0,244.4 441.4,244.7 453.8,245.1 466.1,245.8 478.5,246.2 490.9,246.0 503.3,245.0 515.7,244.0 528.1,243.2 540.5,244.6 552.9,242.8 565.3,243.5 577.7,245.6 590.0,244.4 602.4,243.5 614.8,243.8 627.2,243.8 639.6,244.1 652.0,244.1 664.4,244.1 676.8,244.0" stroke="#E4AF0D"/>
<polyline points="391.8,201.3 404.2,205.5 416.6,210.3 429.0,212.8 441.4,206.1 453.8,200.7 466.1,189.3 478.5,181.0 490.9,169.6 503.3,151.6 515.7,140.9 528.1,119.9 540.5,122.9 552.9,125.9 565.3,117.5 577.7,119.3 590.0,100.5 602.4,37.4 614.8,75.7 627.2,113.3 639.6,134.9 652.0,157.0 664.4,179.5 676.8,191.4" stroke="#E98905"/>
<polyline points="391.8,240.4 404.2,241.1 416.6,241.6 429.0,242.7 441.4,243.0 453.8,243.2 466.1,242.8 478.5,241.7 490.9,240.2 503.3,238.4 515.7,237.8 528.1,236.9 540.5,237.8 552.9,239.6 565.3,238.5 577.7,238.5 590.0,236.4 602.4,234.2 614.8,227.3 627.2,228.4 639.6,232.8 652.0,236.0 664.4,237.3 676.8,238.5" stroke="#EE6004"/>
<polyline points="391.8,226.4 404.2,229.1 416.6,231.8 429.0,235.4 441.4,237.1 453.8,238.4 466.1,239.9 478.5,239.2 490.9,237.8 503.3,236.6 515.7,235.4 528.1,231.3 540.5,232.8 552.9,230.3 565.3,228.5 577.7,227.8 590.0,232.3 602.4,226.4 614.8,227.0 627.2,226.0 639.6,222.5 652.0,223.1 664.4,224.9 676.8,226.0" stroke="#F11B00"/>
</g>
<polyline points="391.8,232.7 404.2,233.3 416.6,233.9 429.0,234.8 441.4,235.7 453.8,232.7 466.1,231.6 478.5,230.0 490.9,226.4 503.3,223.4 515.7,220.7 528.1,217.7 540.5,216.3 552.9,217.7 565.3,218.6 577.7,219.8 590.0,224.0 602.4,220.0 614.8,221.9 627.2,223.4 639.6,226.7 652.0,230.1 664.4,232.4 676.8,232.8" fill="none" stroke="#000" stroke-width="2.8" stroke-linejoin="round"/>
<polyline points="391.8,229.4 404.2,230.0 416.6,230.4 429.0,231.2 441.4,231.3 453.8,231.1 466.1,228.8 478.5,228.2 490.9,224.6 503.3,221.6 515.7,217.7 528.1,216.3 540.5,215.1 552.9,212.7 565.3,211.8 577.7,208.8 590.0,207.7 602.4,208.8 614.8,211.5 627.2,215.4 639.6,221.9 652.0,224.0 664.4,226.0 676.8,227.6" fill="none" stroke="#000" stroke-width="2.8" stroke-dasharray="10.2 10.2" stroke-linejoin="round"/></g>
<g class="tk"><rect x="38.5" y="20.5" width="299.6" height="262.8" fill="none" stroke="#8C8C8C" stroke-width="1.1"/>
<rect x="384.5" y="20.5" width="299.8" height="262.8" fill="none" stroke="#8C8C8C" stroke-width="1.1"/>
<line x1="35.8" y1="271.35" x2="38.5" y2="271.35" stroke="#8C8C8C" stroke-width="1.4"/>
<text x="34.4" y="276.25" font-size="12.8" fill="#4D4D4D" text-anchor="end">0.0</text>
<line x1="35.8" y1="223.55" x2="38.5" y2="223.55" stroke="#8C8C8C" stroke-width="1.4"/>
<text x="34.4" y="228.45" font-size="12.8" fill="#4D4D4D" text-anchor="end">0.2</text>
<line x1="35.8" y1="175.75" x2="38.5" y2="175.75" stroke="#8C8C8C" stroke-width="1.4"/>
<text x="34.4" y="180.65" font-size="12.8" fill="#4D4D4D" text-anchor="end">0.4</text>
<line x1="35.8" y1="127.95" x2="38.5" y2="127.95" stroke="#8C8C8C" stroke-width="1.4"/>
<text x="34.4" y="132.85" font-size="12.8" fill="#4D4D4D" text-anchor="end">0.6</text>
<line x1="35.8" y1="80.15" x2="38.5" y2="80.15" stroke="#8C8C8C" stroke-width="1.4"/>
<text x="34.4" y="85.05" font-size="12.8" fill="#4D4D4D" text-anchor="end">0.8</text>
<line x1="35.8" y1="32.35" x2="38.5" y2="32.35" stroke="#8C8C8C" stroke-width="1.4"/>
<text x="34.4" y="37.25" font-size="12.8" fill="#4D4D4D" text-anchor="end">1.0</text>
<line x1="51.55" y1="283.3" x2="51.55" y2="286" stroke="#8C8C8C" stroke-width="1.4"/>
<text x="51.55" y="296.9" font-size="12.8" fill="#4D4D4D" text-anchor="middle">0</text>
<line x1="106.15" y1="283.3" x2="106.15" y2="286" stroke="#8C8C8C" stroke-width="1.4"/>
<text x="106.15" y="296.9" font-size="12.8" fill="#4D4D4D" text-anchor="middle">1</text>
<line x1="160.75" y1="283.3" x2="160.75" y2="286" stroke="#8C8C8C" stroke-width="1.4"/>
<text x="160.75" y="296.9" font-size="12.8" fill="#4D4D4D" text-anchor="middle">2</text>
<line x1="215.35" y1="283.3" x2="215.35" y2="286" stroke="#8C8C8C" stroke-width="1.4"/>
<text x="215.35" y="296.9" font-size="12.8" fill="#4D4D4D" text-anchor="middle">3</text>
<line x1="269.95" y1="283.3" x2="269.95" y2="286" stroke="#8C8C8C" stroke-width="1.4"/>
<text x="269.95" y="296.9" font-size="12.8" fill="#4D4D4D" text-anchor="middle">4</text>
<line x1="324.55" y1="283.3" x2="324.55" y2="286" stroke="#8C8C8C" stroke-width="1.4"/>
<text x="324.55" y="296.9" font-size="12.8" fill="#4D4D4D" text-anchor="middle">5</text>
<line x1="381.8" y1="271.3" x2="384.5" y2="271.3" stroke="#8C8C8C" stroke-width="1.4"/>
<text x="380.4" y="276.2" font-size="12.8" fill="#4D4D4D" text-anchor="end">0.0</text>
<line x1="381.8" y1="241.39" x2="384.5" y2="241.39" stroke="#8C8C8C" stroke-width="1.4"/>
<text x="380.4" y="246.29" font-size="12.8" fill="#4D4D4D" text-anchor="end">0.5</text>
<line x1="381.8" y1="211.47" x2="384.5" y2="211.47" stroke="#8C8C8C" stroke-width="1.4"/>
<text x="380.4" y="216.37" font-size="12.8" fill="#4D4D4D" text-anchor="end">1.0</text>
<line x1="381.8" y1="181.56" x2="384.5" y2="181.56" stroke="#8C8C8C" stroke-width="1.4"/>
<text x="380.4" y="186.46" font-size="12.8" fill="#4D4D4D" text-anchor="end">1.5</text>
<line x1="381.8" y1="151.64" x2="384.5" y2="151.64" stroke="#8C8C8C" stroke-width="1.4"/>
<text x="380.4" y="156.54" font-size="12.8" fill="#4D4D4D" text-anchor="end">2.0</text>
<line x1="381.8" y1="121.73" x2="384.5" y2="121.73" stroke="#8C8C8C" stroke-width="1.4"/>
<text x="380.4" y="126.63" font-size="12.8" fill="#4D4D4D" text-anchor="end">2.5</text>
<line x1="381.8" y1="91.81" x2="384.5" y2="91.81" stroke="#8C8C8C" stroke-width="1.4"/>
<text x="380.4" y="96.71" font-size="12.8" fill="#4D4D4D" text-anchor="end">3.0</text>
<line x1="381.8" y1="61.9" x2="384.5" y2="61.9" stroke="#8C8C8C" stroke-width="1.4"/>
<text x="380.4" y="66.8" font-size="12.8" fill="#4D4D4D" text-anchor="end">3.5</text>
<line x1="381.8" y1="31.98" x2="384.5" y2="31.98" stroke="#8C8C8C" stroke-width="1.4"/>
<text x="380.4" y="36.88" font-size="12.8" fill="#4D4D4D" text-anchor="end">4.0</text>
<line x1="391.8" y1="283.3" x2="391.8" y2="286" stroke="#8C8C8C" stroke-width="1.4"/>
<text x="391.8" y="296.9" font-size="12.8" fill="#4D4D4D" text-anchor="middle">0</text>
<line x1="416.58" y1="283.3" x2="416.58" y2="286" stroke="#8C8C8C" stroke-width="1.4"/>
<text x="416.58" y="296.9" font-size="12.8" fill="#4D4D4D" text-anchor="middle">2</text>
<line x1="441.36" y1="283.3" x2="441.36" y2="286" stroke="#8C8C8C" stroke-width="1.4"/>
<text x="441.36" y="296.9" font-size="12.8" fill="#4D4D4D" text-anchor="middle">4</text>
<line x1="466.14" y1="283.3" x2="466.14" y2="286" stroke="#8C8C8C" stroke-width="1.4"/>
<text x="466.14" y="296.9" font-size="12.8" fill="#4D4D4D" text-anchor="middle">6</text>
<line x1="490.92" y1="283.3" x2="490.92" y2="286" stroke="#8C8C8C" stroke-width="1.4"/>
<text x="490.92" y="296.9" font-size="12.8" fill="#4D4D4D" text-anchor="middle">8</text>
<line x1="515.7" y1="283.3" x2="515.7" y2="286" stroke="#8C8C8C" stroke-width="1.4"/>
<text x="515.7" y="296.9" font-size="12.8" fill="#4D4D4D" text-anchor="middle">10</text>
<line x1="540.48" y1="283.3" x2="540.48" y2="286" stroke="#8C8C8C" stroke-width="1.4"/>
<text x="540.48" y="296.9" font-size="12.8" fill="#4D4D4D" text-anchor="middle">12</text>
<line x1="565.26" y1="283.3" x2="565.26" y2="286" stroke="#8C8C8C" stroke-width="1.4"/>
<text x="565.26" y="296.9" font-size="12.8" fill="#4D4D4D" text-anchor="middle">14</text>
<line x1="590.04" y1="283.3" x2="590.04" y2="286" stroke="#8C8C8C" stroke-width="1.4"/>
<text x="590.04" y="296.9" font-size="12.8" fill="#4D4D4D" text-anchor="middle">16</text>
<line x1="614.82" y1="283.3" x2="614.82" y2="286" stroke="#8C8C8C" stroke-width="1.4"/>
<text x="614.82" y="296.9" font-size="12.8" fill="#4D4D4D" text-anchor="middle">18</text>
<line x1="639.6" y1="283.3" x2="639.6" y2="286" stroke="#8C8C8C" stroke-width="1.4"/>
<text x="639.6" y="296.9" font-size="12.8" fill="#4D4D4D" text-anchor="middle">20</text>
<line x1="664.38" y1="283.3" x2="664.38" y2="286" stroke="#8C8C8C" stroke-width="1.4"/>
<text x="664.38" y="296.9" font-size="12.8" fill="#4D4D4D" text-anchor="middle">22</text></g>
<g class="bt"><text x="38.6" y="12.6" font-size="15.6" fill="#000" text-anchor="start" letter-spacing="0.35">(a)</text>
<text x="384.6" y="12.6" font-size="15.6" fill="#000" text-anchor="start" letter-spacing="0.35">(b)</text>
<text x="188.1" y="311.7" font-size="14.1" fill="#000" text-anchor="middle">I/O ratio</text>
<text x="534.6" y="311.7" font-size="14.1" fill="#000" text-anchor="middle">Hour</text>
<text x="10.8" y="151.6" font-size="14.1" fill="#000" text-anchor="middle" transform="rotate(-90 10.8 151.6)">CDF</text>
<text x="357.4" y="152.6" font-size="14.1" fill="#000" text-anchor="middle" transform="rotate(-90 357.4 152.6)">I/O ratio</text></g>
<g class="bt"><rect x="120.2" y="328.5" width="11.2" height="5" fill="#3A9AB2"/>
<text transform="translate(137.5,335.7) scale(1,1.1)" font-size="13.7" fill="#000">SB1</text>
<rect x="170.2" y="328.5" width="11.2" height="5" fill="#78B4BE"/>
<text transform="translate(187.5,335.7) scale(1,1.1)" font-size="13.7" fill="#000">SB2</text>
<rect x="219.9" y="328.5" width="11.2" height="5" fill="#9BBEAC"/>
<text transform="translate(237.2,335.7) scale(1,1.1)" font-size="13.7" fill="#000">SB3</text>
<rect x="270.4" y="328.5" width="11.2" height="5" fill="#B7C68A"/>
<text transform="translate(287.7,335.7) scale(1,1.1)" font-size="13.7" fill="#000">SB4</text>
<rect x="320" y="328.5" width="11.2" height="5" fill="#DCCB4E"/>
<text transform="translate(337.3,335.7) scale(1,1.1)" font-size="13.7" fill="#000">SB5</text>
<rect x="370.1" y="328.5" width="11.2" height="5" fill="#E4AF0D"/>
<text transform="translate(387.4,335.7) scale(1,1.1)" font-size="13.7" fill="#000">SB6</text>
<rect x="419.7" y="328.5" width="11.2" height="5" fill="#E98905"/>
<text transform="translate(437,335.7) scale(1,1.1)" font-size="13.7" fill="#000">DB1</text>
<rect x="470.3" y="328.5" width="11.2" height="5" fill="#EE6004"/>
<text transform="translate(487.6,335.7) scale(1,1.1)" font-size="13.7" fill="#000">DB2</text>
<rect x="521" y="328.5" width="11.2" height="5" fill="#F11B00"/>
<text transform="translate(538.3,335.7) scale(1,1.1)" font-size="13.7" fill="#000">DB3</text></g>
</svg></body></html>
